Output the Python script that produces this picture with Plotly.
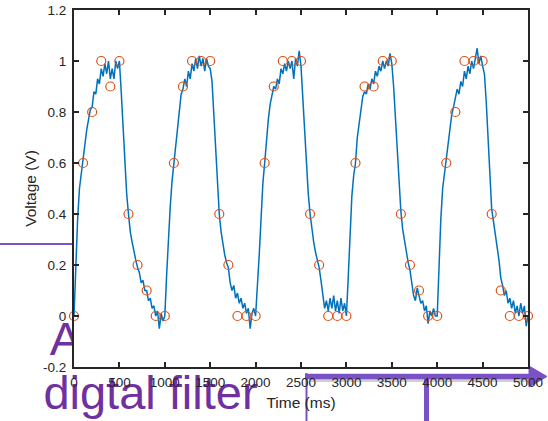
import plotly.graph_objects as go

# ---------------- data ----------------
trace_step_ms = 20
cycle1 = [0.00, 0.22, 0.38, 0.50, 0.56, 0.61, 0.68, 0.73, 0.77, 0.81,
          0.82, 0.88, 0.87, 0.93, 0.91, 0.97, 0.94, 0.99, 0.95, 1.00,
          0.93, 0.97, 0.93, 1.00, 0.97, 1.00, 0.88, 0.74, 0.60, 0.48,
          0.40, 0.33, 0.29, 0.25, 0.22, 0.19, 0.17, 0.13, 0.14, 0.10,
          0.10, 0.06, 0.07, 0.03, 0.04, 0.00, 0.02, -0.05, 0.01, -0.02]
cycle2 = [0.00, 0.16, 0.32, 0.43, 0.53, 0.60, 0.67, 0.73, 0.80, 0.87,
          0.89, 0.93, 0.90, 0.96, 0.93, 0.99, 0.96, 1.01, 0.97, 1.02,
          0.98, 1.01, 0.96, 1.01, 0.98, 0.97, 0.92, 0.80, 0.66, 0.52,
          0.40, 0.33, 0.28, 0.24, 0.21, 0.19, 0.13, 0.10, 0.12, 0.07,
          0.09, 0.05, 0.07, 0.03, 0.05, 0.01, 0.03, -0.05, 0.01, 0.03]
cycle3 = [0.00, 0.10, 0.24, 0.38, 0.52, 0.60, 0.70, 0.77, 0.83, 0.87,
          0.90, 0.89, 0.93, 0.91, 0.97, 0.95, 0.99, 0.96, 1.00, 0.97,
          1.00, 0.93, 1.01, 0.98, 1.04, 0.98, 0.85, 0.72, 0.58, 0.48,
          0.40, 0.34, 0.29, 0.25, 0.22, 0.19, 0.14, 0.09, 0.03, 0.06,
          0.02, 0.07, 0.03, 0.08, 0.02, 0.06, 0.01, 0.07, 0.02, 0.05]
cycle4 = [0.00, 0.15, 0.35, 0.47, 0.55, 0.60, 0.70, 0.76, 0.82, 0.86,
          0.88, 0.87, 0.91, 0.89, 0.93, 0.91, 0.96, 0.94, 0.98, 0.96,
          1.00, 0.97, 1.00, 0.98, 1.03, 0.99, 0.90, 0.78, 0.62, 0.50,
          0.41, 0.34, 0.29, 0.24, 0.21, 0.18, 0.12, 0.08, 0.06, 0.11,
          0.08, 0.05, 0.06, 0.02, 0.04, -0.03, 0.02, 0.00, 0.03, 0.00]
cycle5 = [0.00, 0.22, 0.38, 0.50, 0.56, 0.61, 0.69, 0.74, 0.79, 0.82,
          0.85, 0.89, 0.87, 0.92, 0.90, 0.96, 0.93, 0.98, 0.95, 1.00,
          0.97, 1.02, 1.05, 0.99, 1.02, 0.98, 0.95, 0.84, 0.70, 0.55,
          0.42, 0.37, 0.31, 0.27, 0.22, 0.15, 0.12, 0.08, 0.10, 0.05,
          0.07, 0.03, 0.06, 0.01, 0.04, 0.00, 0.05, 0.01, 0.04, -0.04, 0.00]
trace_voltage = cycle1 + cycle2 + cycle3 + cycle4 + cycle5
trace_time = [i * trace_step_ms for i in range(len(trace_voltage))]

sample_time = [i * 100 for i in range(51)]
sample_voltage = [0, 0.6, 0.8, 1, 0.9, 1, 0.4, 0.2, 0.1, 0, 0,
                  0.6, 0.9, 1, 1, 1, 0.4, 0.2, 0, 0, 0,
                  0.6, 0.9, 1, 1, 1, 0.4, 0.2, 0, 0, 0,
                  0.6, 0.9, 0.9, 1, 1, 0.4, 0.2, 0.1, 0, 0,
                  0.6, 0.8, 1, 1, 1, 0.4, 0.1, 0, 0, 0]

x_ticks = [0, 500, 1000, 1500, 2000, 2500, 3000, 3500, 4000, 4500, 5000]
x_tick_text = [str(v) for v in x_ticks]
y_ticks = [-0.2, 0, 0.2, 0.4, 0.6, 0.8, 1.0, 1.2]
y_tick_text = ["-0.2", "0", "0.2", "0.4", "0.6", "0.8", "1", "1.2"]

# ---------------- geometry / style ----------------
W, H = 548, 421
PL, PR, PT, PB = 74, 528, 10, 367          # plot-area pixel box
AX = "#262626"
PURPLE_TXT = "#7030A0"
PURPLE_LN = "#7B52C6"
FONT = "Liberation Sans, Arial, Helvetica, sans-serif"


def fx(px):  # pixel x -> paper fraction
    return px / W


def fy(py):  # pixel y (from top) -> paper fraction
    return 1 - py / H


fig = go.Figure()

# helper subplot xy: whole page in pixel units (drawn first -> under the main tick labels)
fig.add_trace(go.Scatter(x=[150.5], y=[397.5], mode="text", text=["digtal filter"],
                         textposition="middle center", cliponaxis=False,
                         textfont=dict(family=FONT, size=47, color=PURPLE_TXT),
                         xaxis="x", yaxis="y", hoverinfo="skip", showlegend=False))
# helper subplot x2y2: left margin only, so the "A" is cut at the axis
fig.add_trace(go.Scatter(x=[65.5], y=[343], mode="text", text=["A"],
                         textposition="middle center", cliponaxis=True,
                         textfont=dict(family=FONT, size=47, color=PURPLE_TXT),
                         xaxis="x2", yaxis="y2", hoverinfo="skip", showlegend=False))

# main data (subplot x3y3)
fig.add_trace(go.Scatter(x=trace_time, y=trace_voltage, mode="lines",
                         line=dict(color="#0072BD", width=1.5),
                         xaxis="x3", yaxis="y3", showlegend=False))
fig.add_trace(go.Scatter(x=sample_time, y=sample_voltage, mode="markers",
                         marker=dict(symbol="circle-open", size=9, color="#D95319",
                                     line=dict(width=1.2, color="#D95319")),
                         cliponaxis=False,
                         xaxis="x3", yaxis="y3", showlegend=False))

# purple pointer lines as shapes under the axes
shapes = [
    dict(type="line", xref="paper", yref="paper", layer="below",
         x0=fx(0), x1=fx(74), y0=fy(244), y1=fy(244), line=dict(color=PURPLE_LN, width=2)),
    dict(type="line", xref="paper", yref="paper", layer="below",
         x0=fx(309), x1=fx(532), y0=fy(380.5), y1=fy(380.5), line=dict(color="#CFCFCF", width=3)),
    dict(type="line", xref="paper", yref="paper", layer="below",
         x0=fx(305), x1=fx(533), y0=fy(376.5), y1=fy(376.5), line=dict(color=PURPLE_LN, width=5.5)),
    dict(type="path", xref="paper", yref="paper", layer="below",
         path=f"M {fx(529)} {fy(366)} L {fx(547)} {fy(376.5)} L {fx(529)} {fy(387)} Z",
         fillcolor=PURPLE_LN, line=dict(color=PURPLE_LN, width=1)),
    dict(type="line", xref="paper", yref="paper", layer="below",
         x0=fx(306.5), x1=fx(306.5), y0=fy(373), y1=fy(421), line=dict(color=PURPLE_LN, width=2)),
    dict(type="line", xref="paper", yref="paper", layer="below",
         x0=fx(426.5), x1=fx(426.5), y0=fy(377), y1=fy(421), line=dict(color=PURPLE_LN, width=5)),
]

hidden = dict(visible=False, showgrid=False, zeroline=False, fixedrange=True, automargin=False)
axis_style = dict(ticks="inside", ticklen=5, tickwidth=1.5, tickcolor=AX,
                  showline=True, linecolor=AX, linewidth=2, mirror="ticks",
                  showgrid=False, zeroline=False, automargin=False,
                  tickfont=dict(family=FONT, size=13.5, color=AX))

fig.update_layout(
    width=W, height=H,
    margin=dict(l=0, r=0, t=0, b=0),
    paper_bgcolor="white", plot_bgcolor="rgba(0,0,0,0)",
    font=dict(family=FONT, size=13, color=AX),
    shapes=shapes,
    xaxis=dict(hidden, domain=[0, 1], range=[0, W], anchor="y"),
    yaxis=dict(hidden, domain=[0, 1], range=[H, 0], anchor="x"),
    xaxis2=dict(hidden, domain=[0, fx(PL)], range=[0, PL], anchor="y2"),
    yaxis2=dict(hidden, domain=[0, 1], range=[H, 0], anchor="x2"),
    xaxis3=dict(axis_style, domain=[fx(PL), fx(PR)], range=[0, 5000],
                tickvals=x_ticks, ticktext=x_tick_text, anchor="y3", ticklabelstandoff=2,
                title=dict(text="Time (ms)", font=dict(family=FONT, size=15.5, color=AX), standoff=8)),
    yaxis3=dict(axis_style, domain=[fy(PB), fy(PT)], range=[-0.2, 1.2],
                tickvals=y_ticks, ticktext=y_tick_text, anchor="x3", ticklabelstandoff=3,
                title=dict(text="Voltage (V)", font=dict(family=FONT, size=15.5, color=AX), standoff=3)),
)

fig.write_html("out.html", config={"displayModeBar": False},
               post_script="document.body.style.margin='0';document.body.style.padding='0';")
